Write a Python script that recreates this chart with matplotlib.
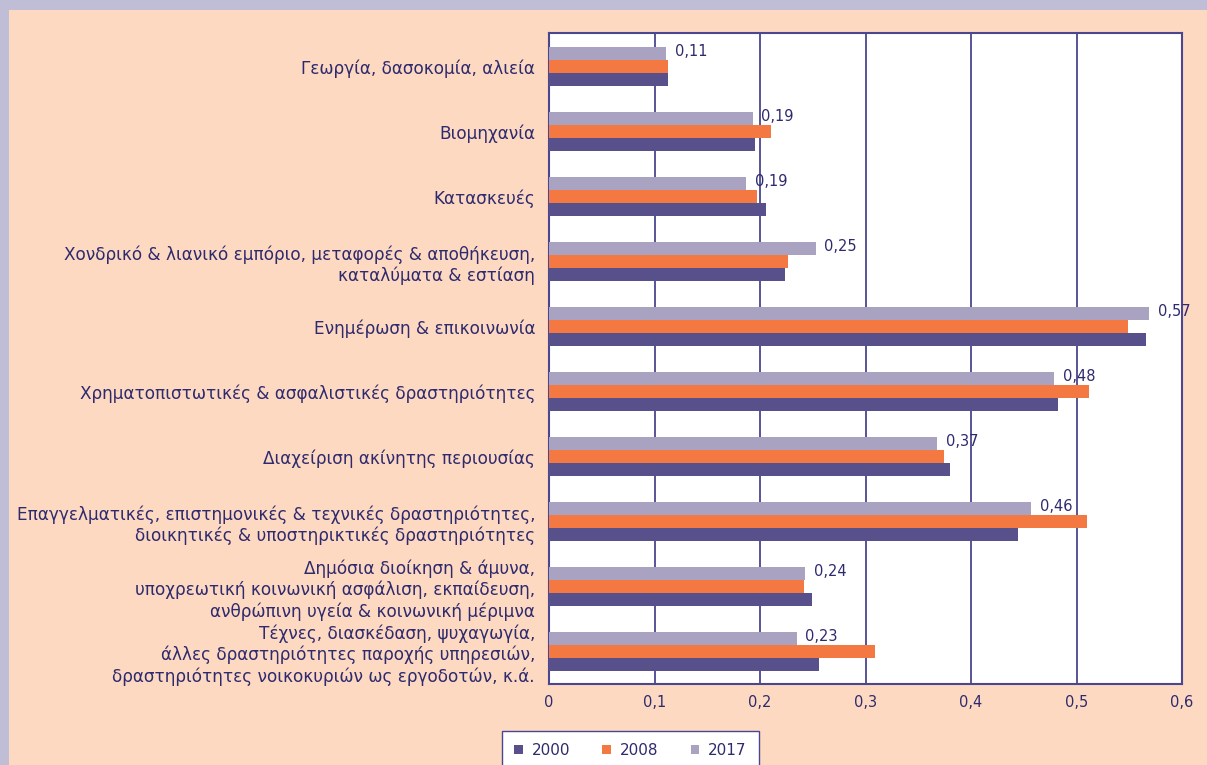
import matplotlib
matplotlib.use('Agg')
import matplotlib.pyplot as plt
from matplotlib.patches import Patch, Rectangle
import numpy as np

plt.rcParams['font.family'] = ['DejaVu Sans']

# data
categories = [
    'Γεωργία, δασοκομία, αλιεία',
    'Βιομηχανία',
    'Κατασκευές',
    'Χονδρικό & λιανικό εμπόριο, μεταφορές & αποθήκευση,\nκαταλύματα & εστίαση',
    'Ενημέρωση & επικοινωνία',
    'Χρηματοπιστωτικές & ασφαλιστικές δραστηριότητες',
    'Διαχείριση ακίνητης περιουσίας',
    'Επαγγελματικές, επιστημονικές & τεχνικές δραστηριότητες,\nδιοικητικές & υποστηρικτικές δραστηριότητες',
    'Δημόσια διοίκηση & άμυνα,\nυποχρεωτική κοινωνική ασφάλιση, εκπαίδευση,\nανθρώπινη υγεία & κοινωνική μέριμνα',
    'Τέχνες, διασκέδαση, ψυχαγωγία,\nάλλες δραστηριότητες παροχής υπηρεσιών,\nδραστηριότητες νοικοκυριών ως εργοδοτών, κ.ά.',
]
vals_2000 = [0.113, 0.195, 0.206, 0.224, 0.566, 0.482, 0.380, 0.445, 0.249, 0.256]
vals_2008 = [0.113, 0.210, 0.197, 0.227, 0.549, 0.512, 0.374, 0.510, 0.242, 0.309]
vals_2017 = [0.111, 0.193, 0.187, 0.253, 0.569, 0.479, 0.368, 0.457, 0.243, 0.235]
labels_2017 = ['0,11', '0,19', '0,19', '0,25', '0,57', '0,48', '0,37', '0,46', '0,24', '0,23']
xticks = [0, 0.1, 0.2, 0.3, 0.4, 0.5, 0.6]
xtick_labels = ['0', '0,1', '0,2', '0,3', '0,4', '0,5', '0,6']

c2000 = '#58508A'
c2008 = '#F47842'
c2017 = '#A9A3C1'
peach = '#FDD9C2'
lavender = '#C0BDD6'
navy = '#2E2A6E'
gridc = '#4A4690'

W, H = 1207, 765
fig = plt.figure(figsize=(W / 100, H / 100), dpi=100)
fig.patch.set_facecolor(peach)

# lavender frame strips on top and left
fig.add_artist(Rectangle((0, 1 - 10 / H), 1, 10 / H, transform=fig.transFigure,
                         facecolor=lavender, edgecolor='none', zorder=0))
fig.add_artist(Rectangle((0, 0), 9 / W, 1, transform=fig.transFigure,
                         facecolor=lavender, edgecolor='none', zorder=0))

ax = fig.add_axes([549 / W, 1 - 684 / H, (1182 - 549) / W, (684 - 33) / H])
ax.set_facecolor('white')

y = np.arange(len(categories))
h = 0.2
ax.barh(y + h, vals_2000, height=h, color=c2000, zorder=3)
ax.barh(y, vals_2008, height=h, color=c2008, zorder=3)
ax.barh(y - h, vals_2017, height=h, color=c2017, zorder=3)

for yi, v, lab in zip(y, vals_2017, labels_2017):
    ax.text(v + 0.008, yi - h - 0.03, lab, ha='left', va='center',
            fontsize=10.5, color=navy, zorder=4)

ax.set_xlim(0, 0.6)
ax.set_ylim(9.5, -0.52)
ax.set_xticks(xticks)
ax.set_xticklabels(xtick_labels, fontsize=10.5, color=navy)
ax.set_yticks(y)
ax.set_yticklabels(categories, fontsize=12.2, color=navy, linespacing=1.2)
ax.tick_params(axis='x', length=0, pad=8)
ax.tick_params(axis='y', length=0, pad=10)
ax.grid(axis='x', color=gridc, linewidth=1.3, zorder=1)
for s in ax.spines.values():
    s.set_color(gridc)
    s.set_linewidth(1.5)

handles = [Patch(facecolor=c2000, label='2000'),
           Patch(facecolor=c2008, label='2008'),
           Patch(facecolor=c2017, label='2017')]
leg = fig.legend(handles=handles, loc='upper left', ncol=3,
                 bbox_to_anchor=(502 / W, 1 - 731 / H), frameon=True,
                 fancybox=False, edgecolor=gridc, facecolor='white',
                 framealpha=1, fontsize=11,
                 handlelength=0.55, handleheight=0.55, columnspacing=2.1,
                 handletextpad=0.6, borderpad=0.8, borderaxespad=0)
leg.get_frame().set_linewidth(1.0)
for t in leg.get_texts():
    t.set_color(navy)

fig.savefig('out.png', dpi=100, facecolor=peach)
